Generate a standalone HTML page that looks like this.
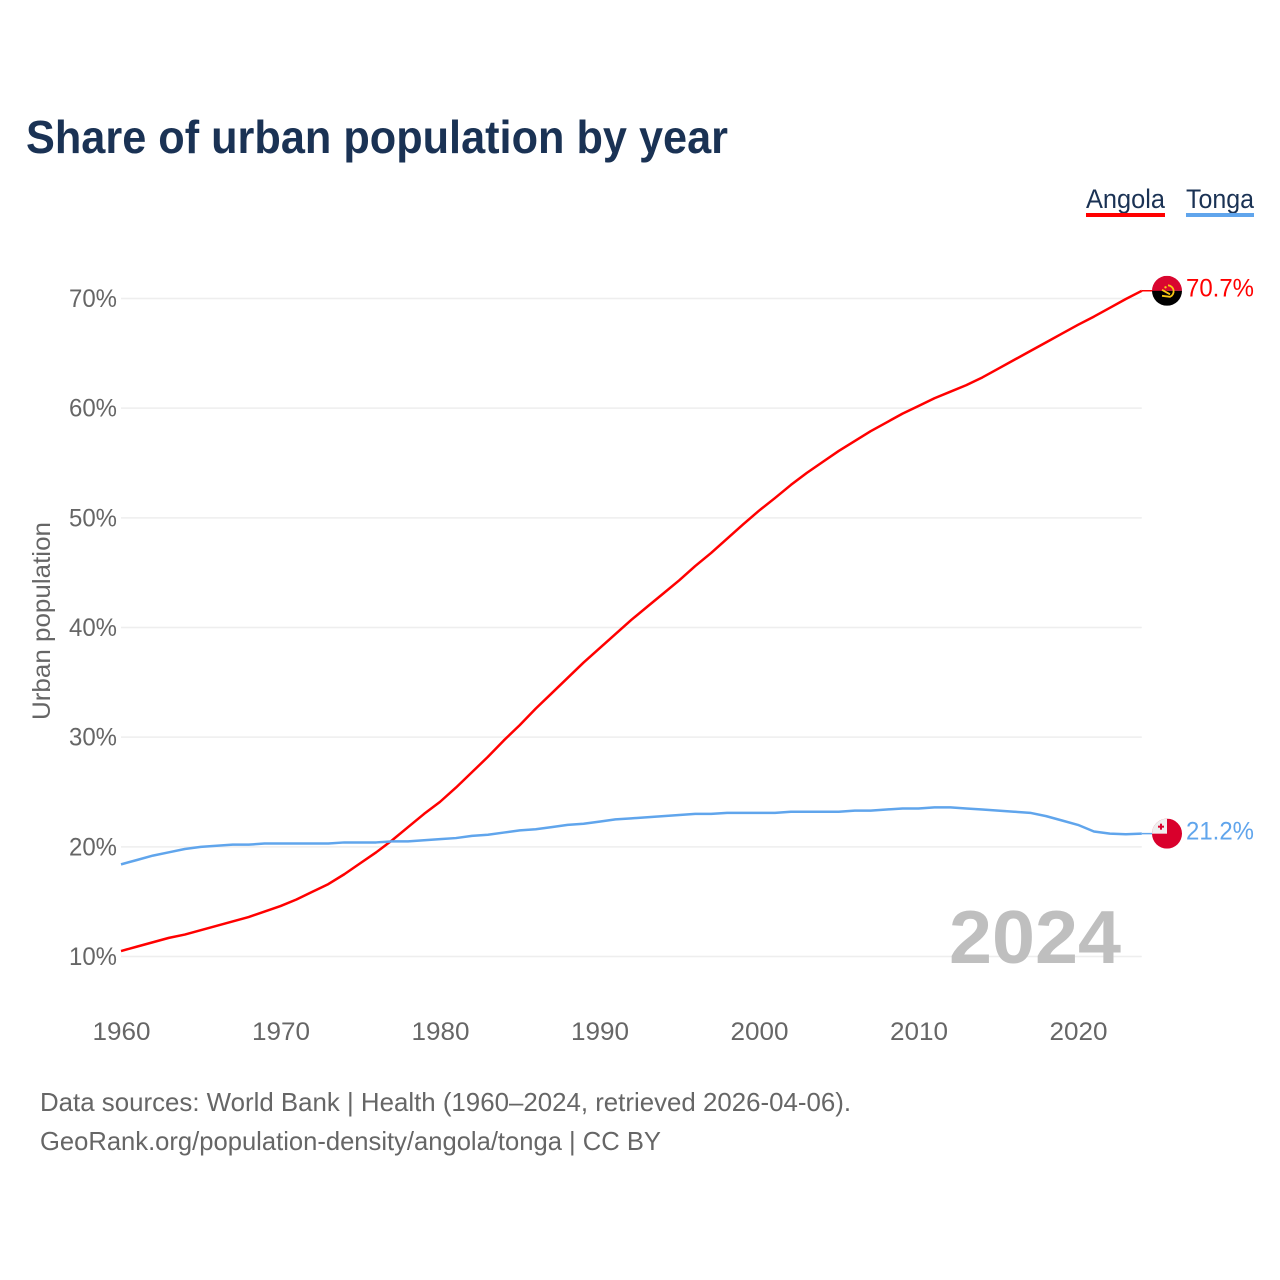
<!DOCTYPE html>
<html lang="en">
<head>
<meta charset="utf-8">
<title>Share of urban population by year</title>
<style>
  html, body { margin: 0; padding: 0; background: #fff; }
  svg { display: block; font-family: "Liberation Sans", Arial, sans-serif; }
</style>
</head>
<body>
<svg id="chart" xmlns="http://www.w3.org/2000/svg" width="1280" height="1280" viewBox="0 0 1280 1280">
  <rect width="1280" height="1280" fill="#ffffff"/>
  <text x="26" y="153" font-size="46" font-weight="700" fill="#1a3254" textLength="702" lengthAdjust="spacingAndGlyphs">Share of urban population by year</text>

  <g>
    <g>
      <text x="1086" y="208" font-size="27" fill="#1a3254" textLength="79" lengthAdjust="spacingAndGlyphs">Angola</text>
      <rect x="1086" y="213" width="79" height="4" fill="#ff0000"/>
    </g>
    <g>
      <text x="1186" y="208" font-size="27" fill="#1a3254" textLength="68" lengthAdjust="spacingAndGlyphs">Tonga</text>
      <rect x="1186" y="213" width="68" height="4" fill="#60a5ec"/>
    </g>
  </g>

  <text transform="translate(50 621) rotate(-90)" text-anchor="middle" font-size="25" fill="#666666" textLength="198" lengthAdjust="spacingAndGlyphs">Urban population</text>

  <g id="grid"></g>
  <g id="y-ticks"></g>
  <g id="x-ticks"></g>

  <text x="1121" y="963" text-anchor="end" font-size="75" font-weight="700" fill="#bfbfbf" textLength="172" lengthAdjust="spacingAndGlyphs">2024</text>

  <g id="series"></g>

  <g id="flag-angola">
    <clipPath id="clip-angola"><circle cx="0" cy="0" r="15"/></clipPath>
    <g clip-path="url(#clip-angola)">
      <rect x="-15" y="-15" width="30" height="15" fill="#d9062f"/>
      <rect x="-15" y="0" width="30" height="15" fill="#000000"/>
    </g>
    <path d="M1 -5.5 A6 6 0 0 1 3 6 L-5 5" fill="none" stroke="#f9c814" stroke-width="1.8"/>
    <path d="M-5 -1 L3 3.5" stroke="#f9c814" stroke-width="1.8"/>
    <circle cx="-1.5" cy="-3.5" r="1.2" fill="#f9c814"/>
  </g>
  <g id="flag-tonga">
    <clipPath id="clip-tonga"><circle cx="0" cy="0" r="15"/></clipPath>
    <g clip-path="url(#clip-tonga)">
      <rect x="-15" y="-15" width="30" height="30" fill="#d9002c"/>
      <rect x="-15" y="-15" width="15" height="15" fill="#efefef"/>
      <rect x="-9" y="-8" width="6" height="2" fill="#d9002c"/>
      <rect x="-7" y="-10" width="2" height="6" fill="#d9002c"/>
    </g>
  </g>
  <g id="end-labels"></g>

  <text x="40" y="1111" font-size="26" fill="#666666" textLength="811" lengthAdjust="spacingAndGlyphs">Data sources: World Bank | Health (1960–2024, retrieved 2026-04-06).</text>
  <text x="40" y="1150" font-size="26" fill="#666666" textLength="621" lengthAdjust="spacingAndGlyphs">GeoRank.org/population-density/angola/tonga | CC BY</text>
</svg>

<script>
const years = [1960,1961,1962,1963,1964,1965,1966,1967,1968,1969,1970,1971,1972,1973,1974,1975,1976,1977,1978,1979,1980,1981,1982,1983,1984,1985,1986,1987,1988,1989,1990,1991,1992,1993,1994,1995,1996,1997,1998,1999,2000,2001,2002,2003,2004,2005,2006,2007,2008,2009,2010,2011,2012,2013,2014,2015,2016,2017,2018,2019,2020,2021,2022,2023,2024];
const angolaValues = [10.5,10.9,11.3,11.7,12.0,12.4,12.8,13.2,13.6,14.1,14.6,15.2,15.9,16.6,17.5,18.5,19.5,20.6,21.8,23.0,24.1,25.4,26.8,28.2,29.7,31.1,32.6,34.0,35.4,36.8,38.1,39.4,40.7,41.9,43.1,44.3,45.6,46.8,48.1,49.4,50.65,51.8,53.0,54.1,55.1,56.1,57.0,57.9,58.7,59.5,60.2,60.9,61.5,62.1,62.8,63.6,64.4,65.2,66.0,66.8,67.6,68.35,69.15,69.95,70.7];
const tongaValues = [18.4,18.8,19.2,19.5,19.8,20.0,20.1,20.2,20.2,20.3,20.3,20.3,20.3,20.3,20.4,20.4,20.4,20.5,20.5,20.6,20.7,20.8,21.0,21.1,21.3,21.5,21.6,21.8,22.0,22.1,22.3,22.5,22.6,22.7,22.8,22.9,23.0,23.0,23.1,23.1,23.1,23.1,23.2,23.2,23.2,23.2,23.3,23.3,23.4,23.5,23.5,23.6,23.6,23.5,23.4,23.3,23.2,23.1,22.8,22.4,22.0,21.4,21.2,21.15,21.2];
const yTickValues = [10,20,30,40,50,60,70];
const xTickValues = [1960,1970,1980,1990,2000,2010,2020];

const NS = 'http://www.w3.org/2000/svg';
const xScale = function (year) { return 121 + (year - 1960) * 15.95; };
const yScale = function (value) { return 956.5 - (value - 10) * 10.967; };
const xEnd = xScale(years[years.length - 1]);

const make = function (tag, parent, attrs, text) {
  const el = document.createElementNS(NS, tag);
  Object.keys(attrs).forEach(function (k) { el.setAttribute(k, attrs[k]); });
  if (text !== undefined) el.textContent = text;
  parent.appendChild(el);
  return el;
};

const gridGroup = document.getElementById('grid');
const yTickGroup = document.getElementById('y-ticks');
const xTickGroup = document.getElementById('x-ticks');
const seriesGroup = document.getElementById('series');
const endLabelGroup = document.getElementById('end-labels');

yTickValues.forEach(function (v) {
  const line = make('line', gridGroup, { x1: 121, x2: xEnd, y1: yScale(v), y2: yScale(v), stroke: '#eeeeee', 'stroke-width': 1.5 });
  
  
  const label = make('text', yTickGroup, { x: 117, y: yScale(v) + 8.5, 'text-anchor': 'end', 'font-size': 25, fill: '#666666', textLength: 48, lengthAdjust: 'spacingAndGlyphs' }, v + '%');
  
  
});

xTickValues.forEach(function (t) {
  const label = make('text', xTickGroup, { x: xScale(t) + 0.5, y: 1040, 'text-anchor': 'middle', 'font-size': 25, fill: '#666666', textLength: 58, lengthAdjust: 'spacingAndGlyphs' }, String(t));
  
  
});

const linePoints = function (values) {
  return years.map(function (yr, i) { return xScale(yr).toFixed(2) + ',' + yScale(values[i]).toFixed(2); }).join(' ');
};

const lastAngola = angolaValues[angolaValues.length - 1];
const lastTonga = tongaValues[tongaValues.length - 1];

const connectorAngola = make('line', seriesGroup, { x1: xEnd, x2: 1167, y1: yScale(lastAngola), y2: yScale(lastAngola), stroke: '#ff0000', 'stroke-width': 1.5 });



const connectorTonga = make('line', seriesGroup, { x1: xEnd, x2: 1167, y1: yScale(lastTonga), y2: yScale(lastTonga), stroke: '#60a5ec', 'stroke-width': 1.5 });



const lineAngola = make('polyline', seriesGroup, { points: linePoints(angolaValues), fill: 'none', stroke: '#ff0000', 'stroke-width': 2.5, 'stroke-linejoin': 'round' });



const lineTonga = make('polyline', seriesGroup, { points: linePoints(tongaValues), fill: 'none', stroke: '#60a5ec', 'stroke-width': 2.5, 'stroke-linejoin': 'round' });



document.getElementById('flag-angola').setAttribute('transform', 'translate(1167 ' + yScale(lastAngola) + ')');
document.getElementById('flag-tonga').setAttribute('transform', 'translate(1167 ' + yScale(lastTonga) + ')');

const labelAngola = make('text', endLabelGroup, { x: 1254, y: yScale(lastAngola) + 5.5, 'text-anchor': 'end', 'font-size': 25, fill: '#ff0000', textLength: 68, lengthAdjust: 'spacingAndGlyphs' }, lastAngola.toFixed(1) + '%');



const labelTonga = make('text', endLabelGroup, { x: 1254, y: yScale(lastTonga) + 6, 'text-anchor': 'end', 'font-size': 25, fill: '#60a5ec', textLength: 68, lengthAdjust: 'spacingAndGlyphs' }, lastTonga.toFixed(1) + '%');


</script>
</body>
</html>
